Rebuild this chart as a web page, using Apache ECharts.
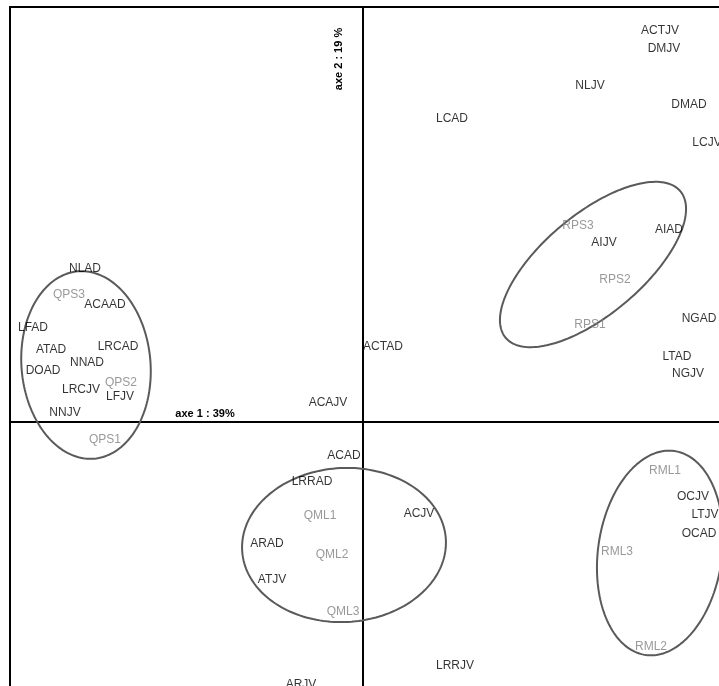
<!DOCTYPE html>
<html>
<head>
<meta charset="utf-8">
<script src="https://cdn.jsdelivr.net/npm/echarts@6/dist/echarts.min.js"></script>
<style>
html,body{margin:0;padding:0;background:#fff;}
#main{width:719px;height:686px;}
</style>
</head>
<body>
<div id="main"></div>
<script>
// Variables (black labels): names and coordinates on axes 1 and 2
const varNames = ['ACTJV','DMJV','NLJV','DMAD','LCJV','LCAD','AIJV','AIAD','NGAD','LTAD','NGJV','ACTAD',
  'NLAD','ACAAD','LFAD','ATAD','LRCAD','NNAD','DOAD','LRCJV','LFJV','NNJV','ACAJV',
  'ACAD','LRRAD','ACJV','ARAD','ATJV','LRRJV','ARJV','OCJV','LTJV','OCAD'];
const varX = [1.485,1.505,1.135,1.63,1.72,0.445,1.205,1.53,1.68,1.57,1.625,0.10,
  -1.39,-1.29,-1.65,-1.56,-1.225,-1.38,-1.60,-1.41,-1.215,-1.49,-0.175,
  -0.095,-0.255,0.28,-0.48,-0.455,0.46,-0.31,1.65,1.71,1.68];
const varY = [1.965,1.875,1.69,1.595,1.405,1.525,0.905,0.97,0.525,0.335,0.25,0.385,
  0.775,0.595,0.48,0.37,0.385,0.305,0.265,0.17,0.135,0.055,0.105,
  -0.16,-0.29,-0.45,-0.60,-0.78,-1.21,-1.305,-0.365,-0.455,-0.55];

// Modalities (grey labels)
const modNames = ['QPS3','QPS2','QPS1','RPS3','RPS2','RPS1','QML1','QML2','QML3','RML1','RML3','RML2'];
const modX = [-1.47,-1.21,-1.29,1.075,1.26,1.135,-0.215,-0.155,-0.10,1.51,1.27,1.44];
const modY = [0.645,0.205,-0.08,0.99,0.72,0.495,-0.46,-0.655,-0.94,-0.235,-0.64,-1.115];

// Ellipses: centre, semi-axes, orientation (degrees)
const ellCX = [-1.385,-0.095,1.15,1.485];
const ellCY = [0.285,-0.615,0.7875,-0.655];
const ellA = [0.47,0.51,0.57,0.515];
const ellB = [0.3225,0.385,0.25,0.31];
const ellAngle = [95,3,40,82];

// Axis titles
const axisTitle1 = 'axe 1 : 39%';
const axisTitle2 = 'axe 2 : 19 %';

const FONT = '"Liberation Sans", Arial, sans-serif';

const chart = echarts.init(document.getElementById('main'), null, {renderer: 'canvas'});

const varData = varNames.map((n, i) => ({name: n, value: [varX[i], varY[i]]}));
const modData = modNames.map((n, i) => ({name: n, value: [modX[i], modY[i]]}));
const ellData = ellCX.map((c, i) => [c, ellCY[i], ellA[i], ellB[i], ellAngle[i]]);

const axisCommon = {
  type: 'value',
  axisLine: {show: true, onZero: true, lineStyle: {color: '#000', width: 2}},
  axisTick: {show: false},
  axisLabel: {show: false},
  splitLine: {show: false}
};

const option = {
  animation: false,
  backgroundColor: '#fff',
  grid: {left: 10, top: 7, width: 753, height: 715, outerBoundsMode: 'none', containLabel: false,
    show: true, borderColor: '#000', borderWidth: 2, backgroundColor: 'transparent'},
  xAxis: Object.assign({}, axisCommon, {min: -1.765, max: 2.0}),
  yAxis: Object.assign({}, axisCommon, {min: -1.5, max: 2.075}),
  series: [
    {
      type: 'custom',
      silent: true,
      clip: false,
      data: ellData,
      renderItem: function (params, api) {
        const cx = api.value(0), cy = api.value(1), a = api.value(2), b = api.value(3);
        const ang = api.value(4) * Math.PI / 180;
        const pts = [];
        const N = 180;
        for (let i = 0; i < N; i++) {
          const t = i / N * 2 * Math.PI;
          const lx = a * Math.cos(t), ly = b * Math.sin(t);
          pts.push(api.coord([cx + lx * Math.cos(ang) - ly * Math.sin(ang), cy + lx * Math.sin(ang) + ly * Math.cos(ang)]));
        }
        return {type: 'polygon', shape: {points: pts}, style: {fill: 'none', stroke: '#5a5a5a', lineWidth: 2}};
      }
    },
    {
      type: 'scatter',
      silent: true,
      symbolSize: 1,
      itemStyle: {color: 'rgba(0,0,0,0)'},
      label: {show: true, position: 'inside', offset: [0, 1.5], formatter: '{b}', color: '#000', fontSize: 12, fontFamily: FONT},
      data: varData
    },
    {
      type: 'scatter',
      silent: true,
      symbolSize: 1,
      itemStyle: {color: 'rgba(0,0,0,0)'},
      label: {show: true, position: 'inside', offset: [0, 1.5], formatter: '{b}', color: '#808080', fontSize: 12, fontFamily: FONT},
      data: modData
    }
  ],
  graphic: [
    {type: 'text', x: 205, y: 414, style: {text: axisTitle1, fontSize: 11, fontWeight: 'bold', fontFamily: FONT, fill: '#000', align: 'center', verticalAlign: 'middle'}},
    {type: 'text', x: 339, y: 59, rotation: Math.PI / 2, style: {text: axisTitle2, fontSize: 11, fontWeight: 'bold', fontFamily: FONT, fill: '#000', align: 'center', verticalAlign: 'middle'}}
  ]
};

chart.setOption(option);
</script>
</body>
</html>
